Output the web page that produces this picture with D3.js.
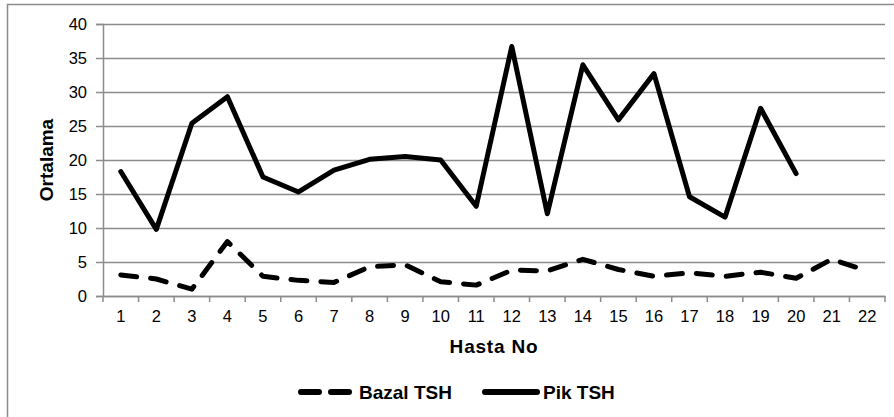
<!DOCTYPE html>
<html>
<head>
<meta charset="utf-8">
<script src="https://cdn.jsdelivr.net/npm/d3@7"></script>
<style>
  body { margin: 0; background: #fff; }
  svg { display: block; font-family: "Liberation Sans", Arial, sans-serif; }
</style>
</head>
<body>
<div id="chart"></div>
<script>
const width = 894;
const height = 417;

const margin = ({top: 24, right: 9, bottom: 121, left: 103});

const hastaNo = d3.range(1, 23).map(String);
const yTicks = [0, 5, 10, 15, 20, 25, 30, 35, 40];

// Bazal TSH: all 22 patients
const bazalTSH = [3.1, 2.5, 1.0, 8.0, 2.9, 2.3, 2.0, 4.3, 4.6, 2.1, 1.6,
  3.8, 3.7, 5.4, 3.9, 2.9, 3.4, 2.9, 3.5, 2.6, 5.4, 3.7];
// Pik TSH: first 20 patients only
const pikTSH = [18.3, 9.8, 25.4, 29.3, 17.5, 15.3, 18.5, 20.1, 20.5, 20.0,
  13.2, 36.7, 12.1, 34.0, 25.9, 32.7, 14.6, 11.6, 27.6, 18.0];

const series = [
  {name: "Bazal TSH", values: bazalTSH, dash: "16,14"},
  {name: "Pik TSH", values: pikTSH, dash: null}
];

const gridColor = "#8c8c8c";

const x = d3.scaleBand()
  .domain(hastaNo)
  .range([margin.left, width - margin.right]);

const y = d3.scaleLinear()
  .domain([0, 40])
  .range([height - margin.bottom, margin.top]);

const svg = d3.select("#chart")
  .append("svg")
  .attr("width", width)
  .attr("height", height)
  .attr("viewBox", [0, 0, width, height]);

// outer frame (runs off the right and bottom edges)
svg.append("rect")
  .attr("x", 7.5).attr("y", 4.5)
  .attr("width", width + 10).attr("height", height + 10)
  .attr("fill", "none")
  .attr("stroke", gridColor)
  .attr("stroke-width", 1.5);

// y axis with gridlines
svg.append("g")
  .attr("transform", `translate(${margin.left},0)`)
  .call(d3.axisLeft(y).tickValues(yTicks).tickSize(7).tickPadding(9))
  .call(g => g.select(".domain").attr("stroke", gridColor).attr("stroke-width", 1.5))
  .call(g => g.selectAll(".tick line").attr("stroke", gridColor).attr("stroke-width", 1.5))
  .call(g => g.selectAll(".tick line").clone()
    .attr("x2", width - margin.right - margin.left)
    .attr("x1", 0))
  .call(g => g.selectAll(".tick text")
    .attr("font-size", 16.5).attr("fill", "#000").attr("font-family", null));

// x axis
const xAxis = svg.append("g")
  .attr("transform", `translate(0,${height - margin.bottom})`)
  .call(d3.axisBottom(x).tickSize(0).tickPadding(14))
  .call(g => g.select(".domain").attr("stroke", gridColor).attr("stroke-width", 1.5))
  .call(g => g.selectAll(".tick text")
    .attr("font-size", 16.5).attr("fill", "#000").attr("font-family", null));

// category boundary ticks
xAxis.append("g")
  .selectAll("line")
  .data(hastaNo.concat([null]))
  .join("line")
  .attr("x1", (d, i) => margin.left + i * x.step())
  .attr("x2", (d, i) => margin.left + i * x.step())
  .attr("y1", 0).attr("y2", 6)
  .attr("stroke", gridColor)
  .attr("stroke-width", 1.5);

// axis titles
svg.append("text")
  .attr("x", 494)
  .attr("y", 353)
  .attr("text-anchor", "middle")
  .attr("font-size", 19)
  .attr("font-weight", "bold")
  .attr("letter-spacing", 0.8)
  .text("Hasta No");

svg.append("text")
  .attr("transform", `translate(53,${(margin.top + height - margin.bottom) / 2}) rotate(-90)`)
  .attr("text-anchor", "middle")
  .attr("font-size", 19)
  .attr("font-weight", "bold")
  .text("Ortalama");

// lines
const line = d3.line()
  .x((d, i) => x(hastaNo[i]) + x.bandwidth() / 2)
  .y(d => y(d));

svg.append("g")
  .selectAll("path")
  .data(series)
  .join("path")
  .attr("fill", "none")
  .attr("stroke", "#000")
  .attr("stroke-width", 5)
  .attr("stroke-linejoin", "round")
  .attr("stroke-linecap", "round")
  .attr("stroke-dasharray", d => d.dash)
  .attr("d", d => line(d.values));

// legend
const legendItems = [
  {s: series[0], x1: 301, x2: 349, tx: 359},
  {s: series[1], x1: 485, x2: 537, tx: 543}
];

const legend = svg.append("g")
  .attr("transform", "translate(0,392)");

legend.selectAll("line")
  .data(legendItems)
  .join("line")
  .attr("x1", d => d.x1).attr("x2", d => d.x2)
  .attr("y1", 0).attr("y2", 0)
  .attr("stroke", "#000")
  .attr("stroke-width", 6)
  .attr("stroke-linecap", "round")
  .attr("stroke-dasharray", d => d.s.dash ? "18,12" : null);

legend.selectAll("text")
  .data(legendItems)
  .join("text")
  .attr("x", d => d.tx)
  .attr("y", 0)
  .attr("dy", "0.35em")
  .attr("font-size", 19)
  .attr("font-weight", "bold")
  .text(d => d.s.name);
</script>
</body>
</html>
